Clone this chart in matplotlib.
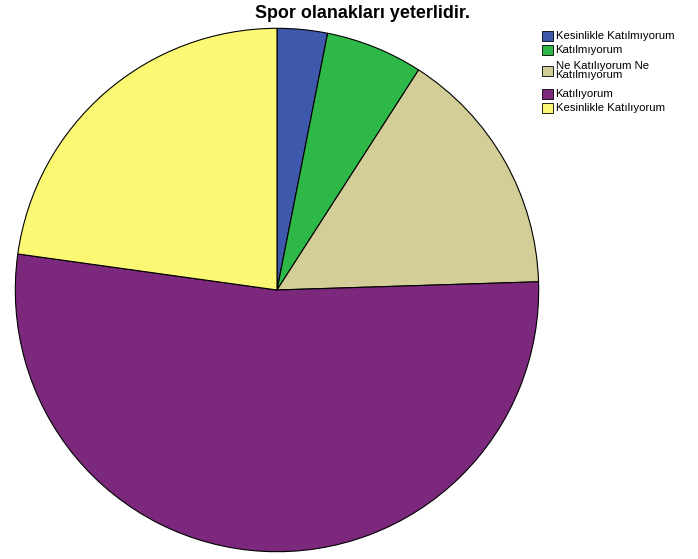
import matplotlib
matplotlib.use("Agg")
import matplotlib.pyplot as plt
from matplotlib.patches import Rectangle

categories = ["Kesinlikle Katılmıyorum", "Katılmıyorum", "Ne Katılıyorum Ne\nKatılmıyorum",
              "Katılıyorum", "Kesinlikle Katılıyorum"]
values = [3.1, 6.0, 15.4, 52.7, 22.8]
colors = ["#3E58AC", "#2EB848", "#D3CE97", "#7C287D", "#FBF873"]
title = "Spor olanakları yeterlidir."

W, H = 698, 559
fig = plt.figure(figsize=(W / 100, H / 100), dpi=100)
plt.rcParams['font.family'] = ['Liberation Sans', 'DejaVu Sans']

cx, cy, r = 277, 290, 263
ax = fig.add_axes([(cx - r) / W, (H - cy - r) / H, 2 * r / W, 2 * r / H])
ax.pie(values, colors=colors, startangle=90, counterclock=False, radius=1,
       wedgeprops=dict(edgecolor="black", linewidth=0.8))
ax.set_xlim(-1.005, 1.005)
ax.set_ylim(-1.005, 1.005)
ax.set_aspect("equal")
ax.axis("off")

fig.text(362 / W, 1 - 14 / H, title, ha="center", va="center",
         fontsize=12.9, fontweight="bold")

centers = [36.3, 50.0, 70.5, 93.7, 107.8]
for lab, col, yc in zip(categories, colors, centers):
    sw, sh = 11, 10
    fig.add_artist(Rectangle((542 / W, 1 - (yc + sh / 2) / H), sw / W, sh / H,
                             transform=fig.transFigure, facecolor=col,
                             edgecolor="black", linewidth=0.6))
    fig.text(555.5 / W, 1 - yc / H, lab, ha="left", va="center", fontsize=8.2,
             linespacing=0.92)

fig.savefig("out.png", dpi=100)
